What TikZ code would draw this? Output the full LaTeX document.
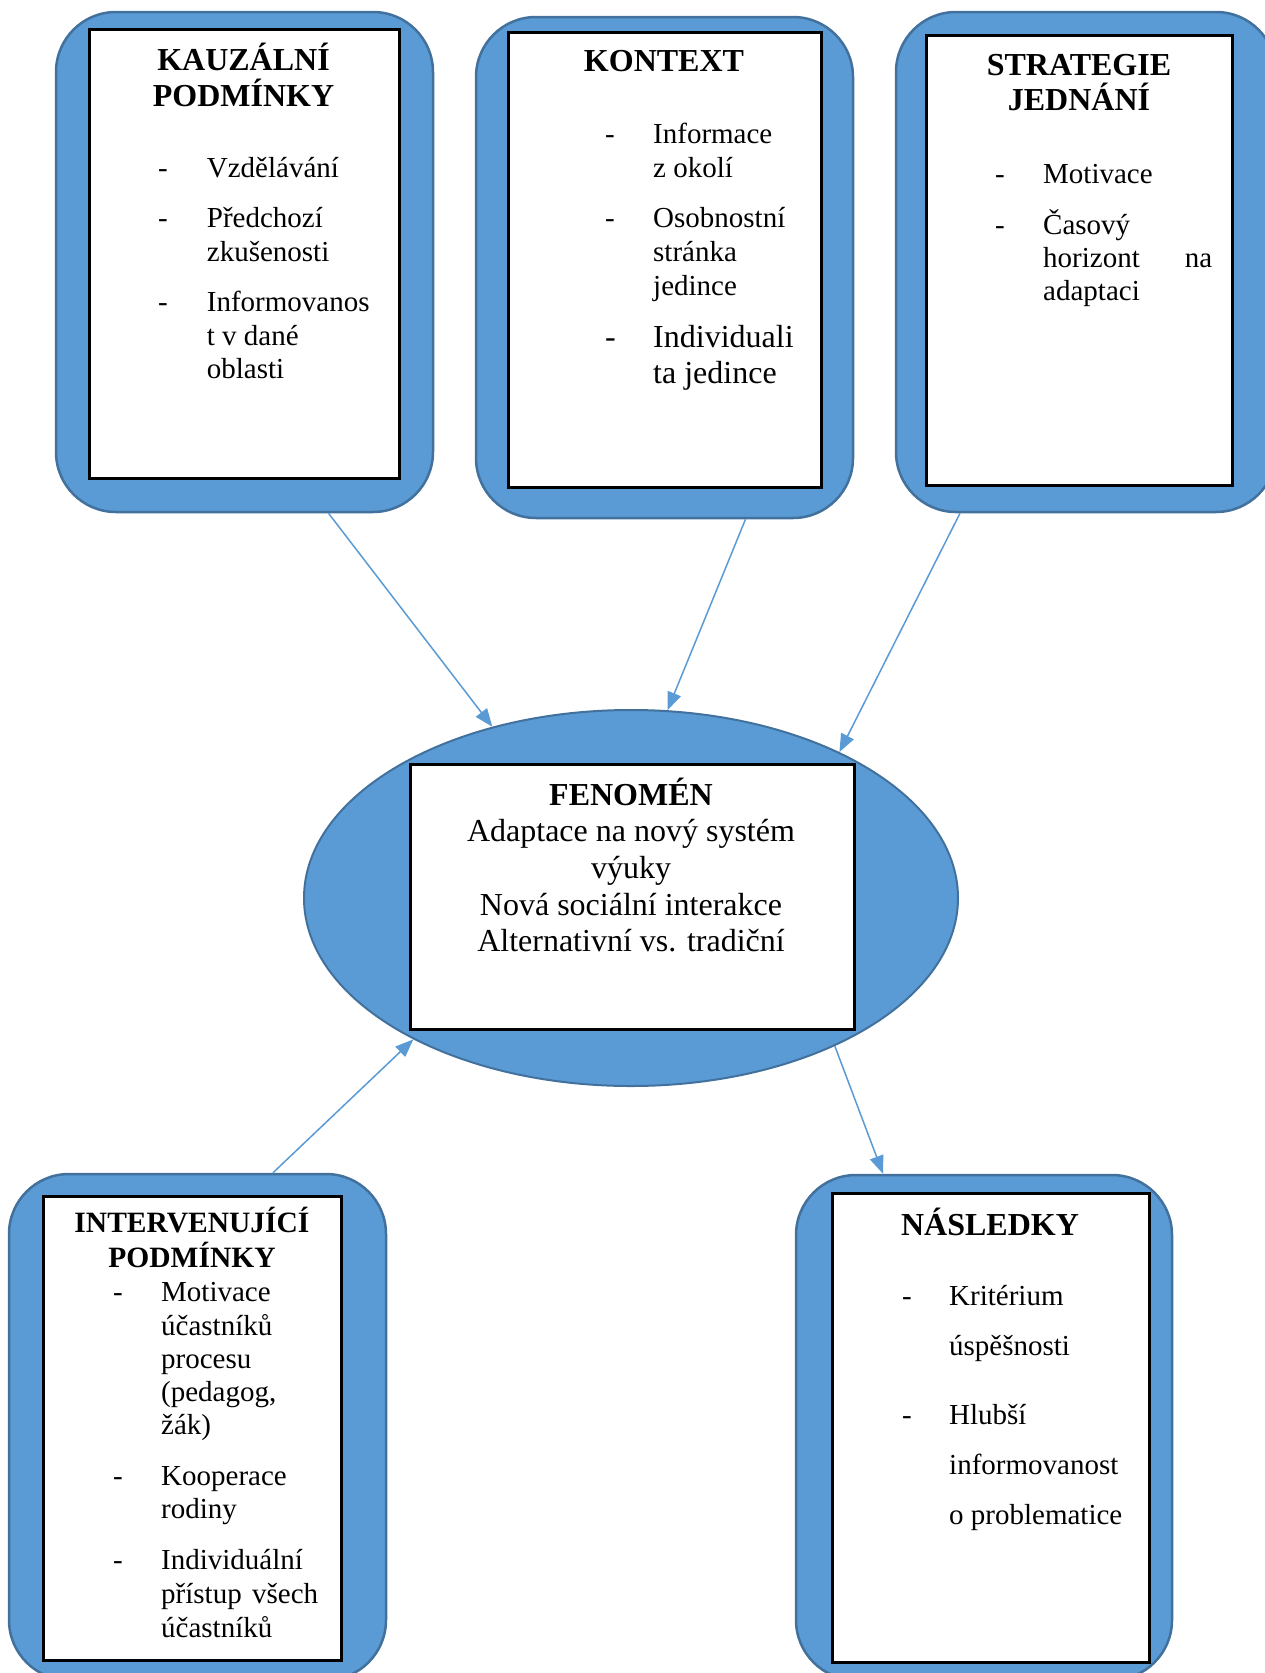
\documentclass[tikz,border=0pt]{standalone}
\usepackage{fontspec}
\setmainfont{Liberation Serif}
\usepackage{xcolor}
\usetikzlibrary{arrows.meta}
\usetikzlibrary{shapes.geometric}

\definecolor{boxblue}{HTML}{5B9BD5}
\definecolor{edgeblue}{HTML}{41719C}

\tikzset{
	outerbox/.style={draw=edgeblue, fill=boxblue, line width=2.5pt, rounded corners=60pt, inner sep=0pt},
	innerbox/.style={draw=black, fill=white, line width=3pt, inner sep=0pt},
	headline/.style={font=\bfseries\fontsize{32}{36}\selectfont, align=center, anchor=base, inner sep=0pt},
	itemtext/.style={font=\fontsize{29}{33.3}\selectfont, align=left, anchor=base west, inner sep=0pt},
	dashmark/.style={font=\fontsize{29}{33.3}\selectfont, anchor=base west, inner sep=0pt},
	flow/.style={draw=boxblue, line width=1.5pt, -{Triangle[length=18pt,width=14pt]}}
}

\begin{document}
\begin{tikzpicture}[x=1pt,y=-1pt]
	\useasboundingbox (0,0) rectangle (1265,1673);
	\fill[white] (0,0) rectangle (1265,1673);
	\clip (0,0) rectangle (1265,1673);

	% Frames
	\node[outerbox, minimum width=377pt, minimum height=500pt] (kauz) at (244.5,262) {};
	\node[innerbox, minimum width=310pt, minimum height=449pt] (kauzin) at (244,253.5) {};
	\node[outerbox, minimum width=377pt, minimum height=501pt] (kont) at (664.5,267.5) {};
	\node[innerbox, minimum width=313pt, minimum height=455pt] (kontin) at (664.5,259.5) {};
	\node[outerbox, minimum width=380pt, minimum height=500pt] (strat) at (1086,262) {};
	\node[innerbox, minimum width=306pt, minimum height=450pt] (stratin) at (1079,260) {};
	\node[outerbox, minimum width=377pt, minimum height=506pt] (interv) at (197.5,1427) {};
	\node[innerbox, minimum width=298pt, minimum height=464pt] (intervin) at (192,1428) {};
	\node[outerbox, minimum width=376pt, minimum height=505pt] (nasl) at (984,1427.5) {};
	\node[innerbox, minimum width=317pt, minimum height=469pt] (naslin) at (990.5,1427.5) {};

	% Phenomenon (multi-line nodes sit on their last baseline)
	\node[ellipse, draw=edgeblue, fill=boxblue, line width=2pt, minimum width=654pt, minimum height=376pt, inner sep=0pt] (fen) at (631,898) {};
	\node[innerbox, minimum width=444pt, minimum height=265pt] (fenin) at (632,896.5) {};
	\node[font=\fontsize{32}{36.7}\selectfont, align=center, anchor=base, inner sep=0pt] (fentext) at (631,951.8)
		{{\bfseries FENOMÉN}\\Adaptace na nový systém\\výuky\\Nová sociální interakce\\Alternativní vs. tradiční};

	% Causal conditions
	\node[headline] (kauztitle) at (243.5,106) {KAUZÁLNÍ\\PODMÍNKY};
	\foreach \y [count=\i] in {177,227.5,311.9}
		\node[dashmark] (kdash\i) at (158,\y) {-};
	\node[itemtext] (k1) at (206.7,177) {Vzdělávání};
	\node[itemtext] (k2) at (206.7,261) {Předchozí\\zkušenosti};
	\node[itemtext] (k3) at (206.7,378.5) {Informovanos\\t v dané\\oblasti};

	% Context
	\node[headline] (konttitle) at (664,71.7) {KONTEXT};
	\foreach \y [count=\i] in {143,227.3}
		\node[dashmark] (cdash\i) at (605,\y) {-};
	\node[dashmark, font=\fontsize{32}{36}\selectfont] (cdash3) at (605,347.3) {-};
	\node[itemtext, font=\fontsize{29}{34}\selectfont] (c1) at (653,177) {Informace\\z okolí};
	\node[itemtext, font=\fontsize{29}{34}\selectfont] (c2) at (653,295.3) {Osobnostní\\stránka\\jedince};
	\node[itemtext, font=\fontsize{32}{36}\selectfont] (c3) at (653,383.3) {Individuali\\ta jedince};

	% Strategies
	\node[headline, font=\bfseries\fontsize{32}{35}\selectfont] (strattitle) at (1079,110) {STRATEGIE\\JEDNÁNÍ};
	\foreach \y [count=\i] in {183,234}
		\node[dashmark] (sdash\i) at (995,\y) {-};
	\node[itemtext] (s1) at (1043,183) {Motivace};
	\node[itemtext, font=\fontsize{29}{33}\selectfont] (s2) at (1043,300) {Časový\\\makebox[169pt][s]{horizont na}\\adaptaci};

	% Intervening conditions
	\node[headline, font=\bfseries\fontsize{29.5}{34.5}\selectfont] (intervtitle) at (192,1267.2) {INTERVENUJÍCÍ\\PODMÍNKY};
	\foreach \y [count=\i] in {1301.7,1485,1569}
		\node[dashmark] (idash\i) at (113,\y) {-};
	\node[itemtext] (i1) at (161,1434.9) {Motivace\\účastníků\\procesu\\(pedagog,\\žák)};
	\node[itemtext] (i2) at (161,1518.3) {Kooperace\\rodiny};
	\node[itemtext, font=\fontsize{29}{34}\selectfont] (i3) at (161,1637) {Individuální\\\makebox[157pt][s]{přístup všech}\\účastníků};

	% Consequences
	\node[headline] (nasltitle) at (990,1235) {NÁSLEDKY};
	\foreach \y [count=\i] in {1305,1424.7}
		\node[dashmark] (ndash\i) at (902,\y) {-};
	\node[itemtext, font=\fontsize{29}{50}\selectfont] (n1) at (949,1355) {Kritérium\\úspěšnosti};
	\node[itemtext, font=\fontsize{29}{50}\selectfont] (n2) at (949,1524.7) {Hlubší\\informovanost\\o problematice};

	% Arrows
	\draw[flow] ([xshift=84pt]kauz.south) -- (fen.129.3);
	\draw[flow] ([xshift=81pt]kont.south) -- (fen.79.7);
	\draw[flow] ([xshift=-126pt]strat.south) -- (fen.35.8);
	\draw[flow] ([xshift=75.5pt]interv.north) -- (fen.213.3);
	\draw[flow] (fen.324) -- ([xshift=-101pt]nasl.north);
\end{tikzpicture}
\end{document}
